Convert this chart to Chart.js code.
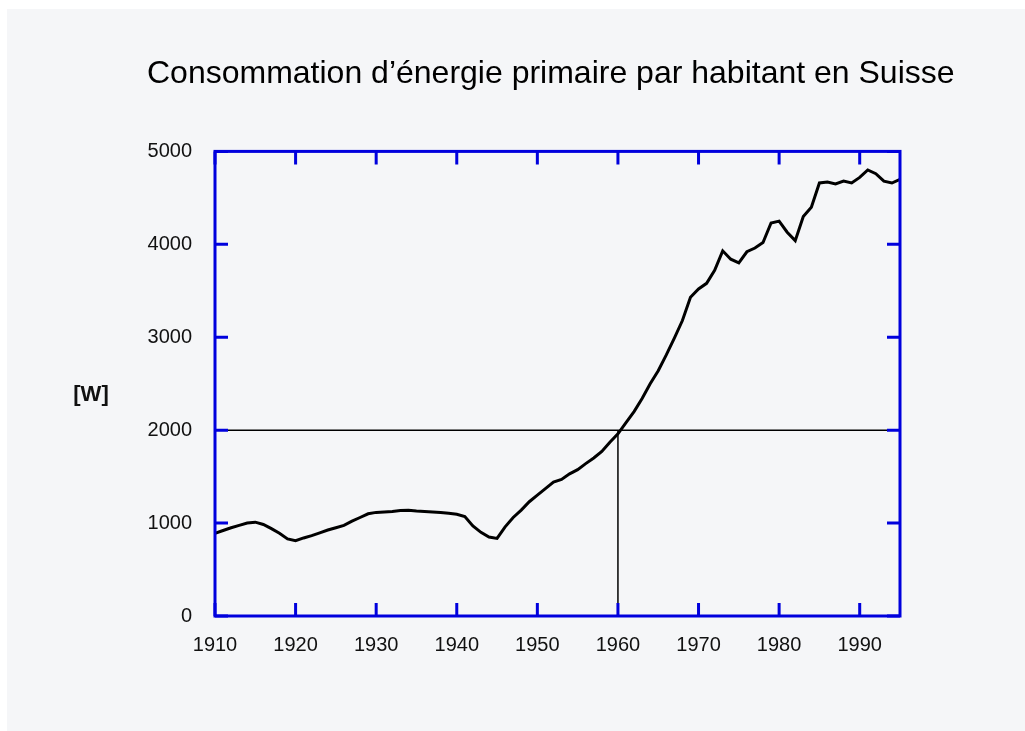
<!DOCTYPE html>
<html>
<head>
<meta charset="utf-8">
<script src="https://cdn.jsdelivr.net/npm/chart.js@4.4.1/dist/chart.umd.min.js"></script>
<style>
  html, body { margin: 0; padding: 0; background: #ffffff; }
  #wrap { position: relative; width: 1025px; height: 731px; }
</style>
</head>
<body>
<div id="wrap"><canvas id="c" width="1025" height="731"></canvas></div>
<script>
// ---- data ----
const titleText = "Consommation d’énergie primaire par habitant en Suisse";
const unitLabel = "[W]";
const years = [1910,1911,1912,1913,1914,1915,1916,1917,1918,1919,
               1920,1921,1922,1923,1924,1925,1926,1927,1928,1929,
               1930,1931,1932,1933,1934,1935,1936,1937,1938,1939,
               1940,1941,1942,1943,1944,1945,1946,1947,1948,1949,
               1950,1951,1952,1953,1954,1955,1956,1957,1958,1959,
               1960,1961,1962,1963,1964,1965,1966,1967,1968,1969,
               1970,1971,1972,1973,1974,1975,1976,1977,1978,1979,
               1980,1981,1982,1983,1984,1985,1986,1987,1988,1989,
               1990,1991,1992,1993,1994,1995];
const watts = [890,920,950,975,1000,1010,985,940,890,830,
               810,840,865,895,925,950,975,1020,1060,1100,
               1115,1120,1125,1135,1138,1130,1125,1120,1115,1105,
               1095,1070,970,900,850,835,960,1060,1140,1230,
               1300,1370,1440,1470,1530,1575,1640,1700,1770,1870,
               1960,2080,2200,2340,2500,2640,2810,2990,3180,3430,
               3520,3580,3720,3930,3840,3800,3920,3960,4020,4230,
               4250,4130,4040,4300,4400,4660,4670,4650,4680,4660,
               4720,4800,4760,4680,4660,4700];
const refHYears = [1910, 1995];
const refHValues = [2000, 2000];
const refVYears = [1960, 1960];
const refVValues = [0, 2000];
const xMin = 1910, xMax = 1995, xStep = 10;
const yMin = 0, yMax = 5000, yStep = 1000;

const toPts = (xs, ys) => xs.map((x, i) => ({x: x, y: ys[i]}));
const BLUE = '#0000dd';
const FONT = '"Liberation Sans", Arial, sans-serif';

const decor = {
  id: 'decor',
  beforeDraw(chart) {
    const ctx = chart.ctx;
    ctx.save();
    ctx.fillStyle = '#ffffff';
    ctx.fillRect(0, 0, chart.width, chart.height);
    ctx.fillStyle = '#f5f6f8';
    ctx.fillRect(7, 9, chart.width - 7, chart.height - 9);
    ctx.restore();
  },
  afterDraw(chart) {
    const ctx = chart.ctx;
    const a = chart.chartArea;
    const xs = chart.scales.x, ys = chart.scales.y;
    ctx.save();
    ctx.strokeStyle = BLUE;
    ctx.lineWidth = 3;
    ctx.strokeRect(a.left, a.top, a.right - a.left, a.bottom - a.top);
    const L = 13;
    ctx.beginPath();
    xs.ticks.forEach(t => {
      const px = xs.getPixelForValue(t.value);
      ctx.moveTo(px, a.bottom); ctx.lineTo(px, a.bottom - L);
      ctx.moveTo(px, a.top); ctx.lineTo(px, a.top + L);
    });
    ys.ticks.forEach(t => {
      const py = ys.getPixelForValue(t.value);
      ctx.moveTo(a.left, py); ctx.lineTo(a.left + L, py);
      ctx.moveTo(a.right, py); ctx.lineTo(a.right - L, py);
    });
    ctx.stroke();
    // unit label
    ctx.fillStyle = '#111';
    ctx.font = 'bold 22px ' + FONT;
    ctx.textAlign = 'center';
    ctx.textBaseline = 'middle';
    ctx.fillText(unitLabel, 91, 395);
    ctx.restore();
  }
};

new Chart(document.getElementById('c'), {
  type: 'line',
  data: {
    datasets: [
      { data: toPts(years, watts), borderColor: '#000', borderWidth: 3, pointRadius: 0, tension: 0, fill: false },
      { data: toPts(refHYears, refHValues), borderColor: '#000', borderWidth: 1.5, pointRadius: 0, fill: false },
      { data: toPts(refVYears, refVValues), borderColor: '#000', borderWidth: 1.5, pointRadius: 0, fill: false }
    ]
  },
  options: {
    responsive: false,
    animation: false,
    layout: { padding: { left: 147, right: 0, top: 0, bottom: 0 } },
    plugins: {
      legend: { display: false },
      tooltip: { enabled: false },
      title: {
        display: true,
        align: 'start',
        text: titleText,
        color: '#000',
        font: { family: FONT, size: 32, weight: 'normal' },
        padding: { top: 55, bottom: 58 }
      }
    },
    scales: {
      x: {
        type: 'linear', min: xMin, max: xMax,
        grid: { display: false, drawTicks: false },
        border: { display: false },
        ticks: { stepSize: xStep, includeBounds: false, padding: 17, color: '#111', maxRotation: 0,
                 font: { family: FONT, size: 20 },
                 callback: v => String(v) },
        afterFit: s => { s.height = 115; }
      },
      y: {
        type: 'linear', min: yMin, max: yMax,
        grid: { display: false, drawTicks: false },
        border: { display: false },
        ticks: { stepSize: yStep, padding: 23, color: '#111',
                 font: { family: FONT, size: 20 },
                 callback: v => String(v) },
        afterFit: s => { s.width = 68; }
      },
      yRight: {
        type: 'linear', position: 'right', min: yMin, max: yMax,
        grid: { display: false, drawTicks: false },
        border: { display: false },
        ticks: { display: false },
        afterFit: s => { s.width = 125; }
      }
    }
  },
  plugins: [decor]
});
</script>
</body>
</html>
